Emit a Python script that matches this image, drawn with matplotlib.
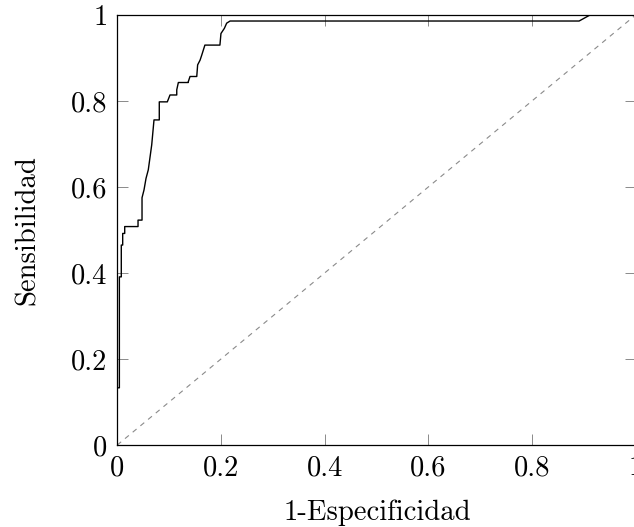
import matplotlib
matplotlib.use("Agg")
import matplotlib.pyplot as plt

# ROC curve points (1-specificity, sensitivity)
fpr = [0, 0, 0.004, 0.004, 0.0077, 0.0077, 0.0104, 0.0104, 0.0143, 0.0143,
       0.040, 0.040, 0.0477, 0.0477, 0.0515, 0.0554, 0.0598, 0.0664, 0.0708,
       0.081, 0.081, 0.0965, 0.1017, 0.1147, 0.1147, 0.1178, 0.137, 0.137,
       0.1403, 0.1533, 0.155, 0.1597, 0.163, 0.169, 0.198, 0.200, 0.2066,
       0.211, 0.2176, 0.891, 0.912, 1.0]
tpr = [0, 0.133, 0.133, 0.391, 0.391, 0.465, 0.465, 0.492, 0.492, 0.508,
       0.508, 0.523, 0.523, 0.575, 0.593, 0.620, 0.640, 0.698, 0.756,
       0.756, 0.798, 0.798, 0.814, 0.814, 0.826, 0.843, 0.843, 0.845,
       0.857, 0.857, 0.884, 0.895, 0.907, 0.930, 0.930, 0.957, 0.969,
       0.981, 0.986, 0.986, 1.0, 1.0]
diag = [0, 1]

ticks = [0, 0.2, 0.4, 0.6, 0.8, 1]
tick_labels = ["0", "0.2", "0.4", "0.6", "0.8", "1"]
xlabel = "1-Especificidad"
ylabel = "Sensibilidad"

plt.rcParams['font.family'] = 'serif'
plt.rcParams['font.serif'] = ['cmr10', 'DejaVu Serif']
plt.rcParams['mathtext.fontset'] = 'cm'
plt.rcParams['axes.unicode_minus'] = False

FS = 20.6
W, H = 634, 527
fig = plt.figure(figsize=(W / 100, H / 100), dpi=100)
left, right, top, bottom = 117.3, 635.6, 15, 445
ax = fig.add_axes([left / W, (H - bottom) / H, (right - left) / W, (bottom - top) / H])

ax.plot(diag, diag, color='#8a8a8a', lw=0.8, dashes=(4.5, 4.5))
ax.plot(fpr, tpr, color='black', lw=1.0)

ax.set_xlim(0, 1)
ax.set_ylim(0, 1)
ax.set_xticks(ticks)
ax.set_yticks(ticks)
ax.set_xticklabels(tick_labels)
ax.set_yticklabels(tick_labels)
ax.tick_params(direction='in', length=8, width=0.6, color='#777777',
               top=True, right=True, labelsize=FS, pad=7)
for s in ax.spines.values():
    s.set_linewidth(0.9)
    s.set_color('black')

ax.set_xlabel(xlabel, fontsize=FS)
ax.set_ylabel(ylabel, fontsize=FS)
ax.xaxis.set_label_coords((377 - left) / (right - left), (bottom - 500) / (bottom - top))
ax.yaxis.set_label_coords((41 - left) / (right - left), 0.5)

fig.savefig("out.png", dpi=100)
